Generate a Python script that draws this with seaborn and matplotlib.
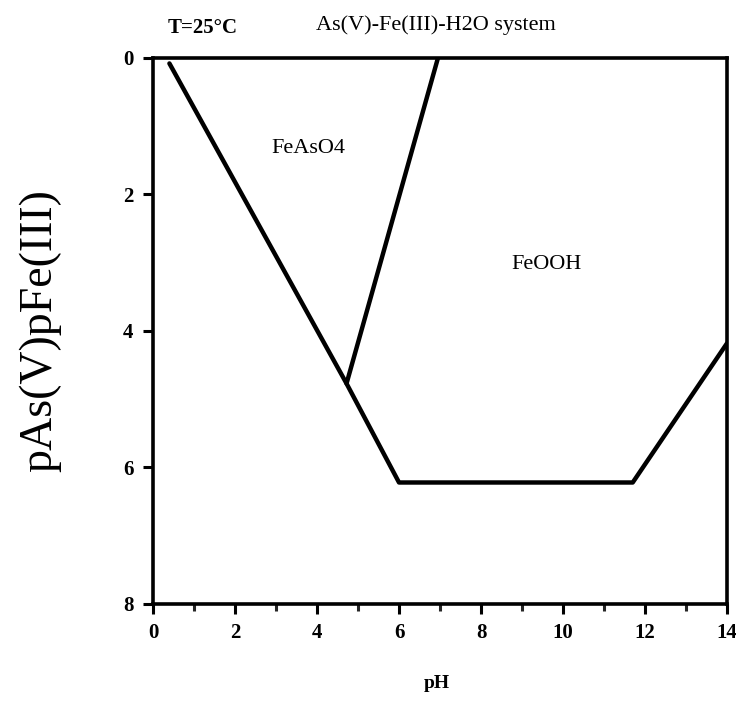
import matplotlib
matplotlib.use("Agg")
import matplotlib.pyplot as plt
import seaborn as sns
import pandas as pd

# Data
boundary_ph = [0.4, 4.72, 6.0, 11.7, 14.0]
boundary_p = [0.08, 4.77, 6.22, 6.22, 4.18]
arsenate_ph = [4.72, 6.95]
arsenate_p = [4.77, 0.0]
x_ticks = [0, 2, 4, 6, 8, 10, 12, 14]
y_ticks = [0, 2, 4, 6, 8]

sns.set_style("ticks")
plt.rcParams['font.family'] = ['Liberation Serif', 'DejaVu Serif']
plt.rcParams['text.color'] = 'black'

fig = plt.figure(figsize=(7.36, 7.13), dpi=100)
ax = fig.add_axes([0.2079, 0.1529, 0.7799, 0.7658])

df1 = pd.DataFrame({"pH": boundary_ph, "p": boundary_p})
df2 = pd.DataFrame({"pH": arsenate_ph, "p": arsenate_p})
sns.lineplot(data=df1, x="pH", y="p", sort=False, estimator=None, color="black",
             linewidth=3.2, ax=ax)
sns.lineplot(data=df2, x="pH", y="p", sort=False, estimator=None, color="black",
             linewidth=3.2, ax=ax)

ax.set_xlim(0, 14)
ax.set_ylim(8, 0)
ax.set_xticks(x_ticks)
ax.set_xticks([1, 3, 5, 7, 9, 11, 13], minor=True)
ax.set_yticks(y_ticks)
ax.tick_params(axis="both", which="major", direction="out", length=7, width=2.2,
               labelsize=15, colors="black", pad=7)
ax.tick_params(axis="x", which="minor", direction="out", length=5, width=2.2)
for lab in ax.get_xticklabels() + ax.get_yticklabels():
    lab.set_fontweight("bold")

for s in ax.spines.values():
    s.set_visible(True)
    s.set_linewidth(2.6)
    s.set_color("black")

ax.set_xlabel("")
ax.set_ylabel("")
fig.text(0.055, 0.537, "pAs(V)pFe(III)", rotation=90, fontsize=33,
         ha="center", va="center", color="black")
fig.text(0.594, 0.042, "pH", fontsize=14, fontweight="bold", ha="center",
         va="center", color="black")

ax.text(1.22, -0.44, "T=25°C", fontsize=15, fontweight="bold", ha="center",
        va="center", color="black")
ax.text(6.9, -0.48, "As(V)-Fe(III)-H2O system", fontsize=16, ha="center",
        va="center", color="black")
ax.text(3.8, 1.33, "FeAsO4", fontsize=16, ha="center", va="center", color="black")
ax.text(9.6, 3.03, "FeOOH", fontsize=16, ha="center", va="center", color="black")

fig.savefig("out.png", dpi=100)
